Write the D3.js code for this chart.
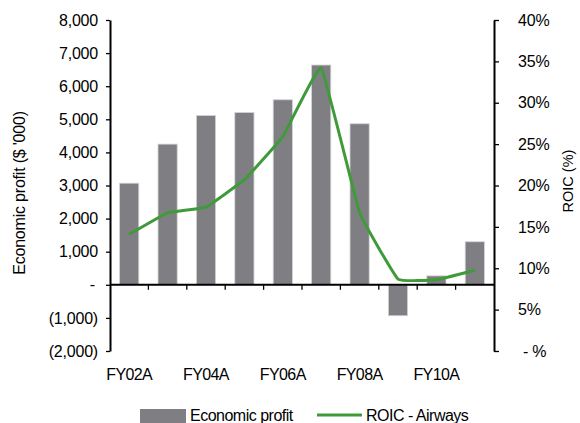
<!DOCTYPE html>
<html>
<head>
<meta charset="utf-8">
<script src="https://cdn.jsdelivr.net/npm/d3@7"></script>
<style>
  html, body { margin: 0; padding: 0; background: #fff; }
  svg { display: block; font-family: "Liberation Sans", Arial, sans-serif; }
</style>
</head>
<body>
<svg id="chart" width="580" height="423"></svg>
<script>
// Fiscal years
const categories = ["FY02A","FY03A","FY04A","FY05A","FY06A","FY07A","FY08A","FY09A","FY10A","FY11A"];
// Economic profit ($ '000)
const economicProfit = [3070, 4250, 5115, 5205, 5590, 6640, 4865, -935, 270, 1300];
// Return on invested capital (fraction)
const roic = [0.141, 0.167, 0.174, 0.207, 0.259, 0.342, 0.167, 0.087, 0.086, 0.0975];
// Axis ticks and their labels
const leftTicks = [-2000, -1000, 0, 1000, 2000, 3000, 4000, 5000, 6000, 7000, 8000];
const leftTickLabels = ["(2,000)", "(1,000)", "-", "1,000", "2,000", "3,000", "4,000", "5,000", "6,000", "7,000", "8,000"];
const rightTicks = [0, 0.05, 0.10, 0.15, 0.20, 0.25, 0.30, 0.35, 0.40];
const rightTickLabels = ["- %", "5%", "10%", "15%", "20%", "25%", "30%", "35%", "40%"];
const xLabels = ["FY02A", "", "FY04A", "", "FY06A", "", "FY08A", "", "FY10A", ""];

const BAR = "#7f7e83", LINE = "#3f9b3a", INK = "#000";
const plotLeft = 110, plotRight = 494, plotTop = 20, plotBottom = 351;

const svg = d3.select("#chart");

const x = d3.scaleBand().domain(categories).range([plotLeft, plotRight]).paddingInner(0).paddingOuter(0);
const yL = d3.scaleLinear().domain([-2000, 8000]).range([plotBottom, plotTop]);
const yR = d3.scaleLinear().domain([0, 0.40]).range([plotBottom, plotTop]);
const barW = x.bandwidth() * 0.5;

// Bars
svg.append("g").selectAll("rect").data(categories).join("rect")
  .attr("x", d => x(d) + (x.bandwidth() - barW) / 2)
  .attr("width", barW)
  .attr("y", (d, i) => yL(Math.max(0, economicProfit[i])))
  .attr("height", (d, i) => Math.abs(yL(economicProfit[i]) - yL(0)))
  .attr("fill", BAR)
  .attr("stroke", "#d4d4d6")
  .attr("stroke-width", 0.8);

// Zero line with ticks between categories
const zeroY = yL(0);
const xAxis = svg.append("g");
xAxis.append("line")
  .attr("x1", plotLeft).attr("x2", plotRight).attr("y1", zeroY).attr("y2", zeroY)
  .attr("stroke", INK).attr("stroke-width", 2);
xAxis.selectAll("line.tick").data(categories.slice(1)).join("line")
  .attr("class", "tick")
  .attr("x1", d => x(d)).attr("x2", d => x(d))
  .attr("y1", zeroY).attr("y2", zeroY + 5)
  .attr("stroke", INK).attr("stroke-width", 1.3);

// Category labels below the plot
svg.append("g").selectAll("text").data(categories).join("text")
  .attr("x", d => x(d) + x.bandwidth() / 2)
  .attr("y", 380)
  .attr("text-anchor", "middle")
  .attr("font-size", 16)
  .attr("letter-spacing", -0.6)
  .attr("fill", INK)
  .text((d, i) => xLabels[i]);

// Left axis
const gL = svg.append("g").attr("transform", `translate(${plotLeft},0)`)
  .call(d3.axisLeft(yL).tickValues(leftTicks).tickSize(4).tickSizeOuter(0).tickPadding(8)
    .tickFormat((d, i) => leftTickLabels[i]));
gL.select(".domain").attr("stroke", INK).attr("stroke-width", 2);
gL.selectAll(".tick line").attr("stroke", INK).attr("stroke-width", 1.3);
gL.selectAll(".tick text").attr("font-size", 16).attr("font-family", "Liberation Sans, Arial, sans-serif")
  .attr("fill", INK).attr("letter-spacing", -0.2)
  .attr("dx", d => d === 0 ? -3 : 0);

// Right axis
const gR = svg.append("g").attr("transform", `translate(${plotRight},0)`)
  .call(d3.axisRight(yR).tickValues(rightTicks).tickSize(5).tickSizeOuter(0).tickPadding(19)
    .tickFormat((d, i) => rightTickLabels[i]));
gR.select(".domain").attr("stroke", INK).attr("stroke-width", 2);
gR.selectAll(".tick line").attr("stroke", INK).attr("stroke-width", 1.3);
gR.selectAll(".tick text").attr("font-size", 16).attr("font-family", "Liberation Sans, Arial, sans-serif")
  .attr("fill", INK).attr("letter-spacing", -0.2)
  .attr("dx", d => d === 0 ? 5 : 0);

// ROIC line
const line = d3.line()
  .x((d, i) => x(categories[i]) + x.bandwidth() / 2)
  .y(d => yR(d))
  .curve(d3.curveCardinal.tension(0.75));
svg.append("path").datum(roic)
  .attr("d", line)
  .attr("fill", "none")
  .attr("stroke", LINE)
  .attr("stroke-width", 3)
  .attr("stroke-linejoin", "round");

// Axis titles
svg.append("text")
  .attr("transform", "translate(25,193) rotate(-90)")
  .attr("text-anchor", "middle")
  .attr("font-size", 16)
  .attr("letter-spacing", -0.2)
  .attr("fill", INK)
  .text("Economic profit ($ '000)");
svg.append("text")
  .attr("transform", "translate(573,181) rotate(-90)")
  .attr("text-anchor", "middle")
  .attr("font-size", 14.5)
  .attr("fill", INK)
  .text("ROIC (%)");

// Legend
const lg = svg.append("g");
lg.append("rect").attr("x", 140).attr("y", 409).attr("width", 46).attr("height", 16).attr("fill", BAR);
lg.append("text").attr("x", 190).attr("y", 421).attr("font-size", 16).attr("letter-spacing", -0.5).attr("fill", INK).text("Economic profit");
lg.append("line").attr("x1", 317).attr("x2", 362).attr("y1", 415).attr("y2", 415)
  .attr("stroke", LINE).attr("stroke-width", 3);
lg.append("text").attr("x", 366).attr("y", 421).attr("font-size", 16).attr("letter-spacing", -0.5).attr("fill", INK).text("ROIC - Airways");
</script>
</body>
</html>
